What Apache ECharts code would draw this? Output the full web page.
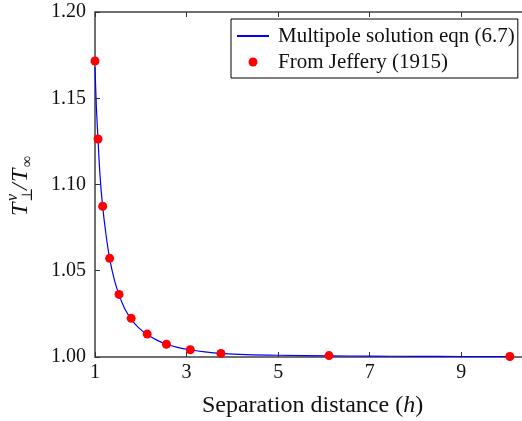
<!DOCTYPE html>
<html>
<head>
<meta charset="utf-8">
<script src="https://cdn.jsdelivr.net/npm/echarts@6/dist/echarts.min.js"></script>
<style>html,body{margin:0;padding:0;background:#fff;}#c{width:522px;height:421px;}</style>
</head>
<body>
<div id="c"></div>
<script>
// Multipole solution curve
const curveX = [1.0, 1.03, 1.066, 1.11, 1.168, 1.24, 1.32, 1.42, 1.525, 1.65, 1.79, 1.95, 2.14, 2.35, 2.56, 2.8, 3.08, 3.4, 3.75, 4.3, 5.0, 6.11, 7.0, 8.0, 9.0, 10.06];
const curveY = [1.168, 1.145, 1.126, 1.105, 1.087, 1.071, 1.057, 1.045, 1.036, 1.028, 1.022, 1.017, 1.013, 1.0098, 1.0074, 1.0056, 1.0042, 1.003, 1.0021, 1.0014, 1.0010, 1.0007, 1.0005, 1.0004, 1.0003, 1.0002];
// Jeffery (1915) points
const jefX = [1.0, 1.066, 1.168, 1.32, 1.525, 1.79, 2.14, 2.56, 3.08, 3.75, 6.11, 10.06];
const jefY = [1.1716, 1.1264, 1.0874, 1.0572, 1.0363, 1.0224, 1.0133, 1.0074, 1.0042, 1.0021, 1.0008, 1.0003];
const xTicks = [1, 3, 5, 7, 9];
const yTicks = [1.00, 1.05, 1.10, 1.15, 1.20];
const seriesNames = ['Multipole solution eqn (6.7)', 'From Jeffery (1915)'];

const FONT = '"Liberation Serif", "DejaVu Serif", serif';
const axisCol = '#707070';
const chart = echarts.init(document.getElementById('c'));
const zip = (a, b) => a.map((v, i) => [v, b[i]]);

chart.setOption({
  animation: false,
  backgroundColor: '#fff',
  grid: { left: 95, top: 12, right: -8, bottom: 64, containLabel: false, outerBoundsMode: 'none' },
  legend: {
    orient: 'vertical', left: 231, top: 19,
    data: [{ name: seriesNames[0], itemStyle: { opacity: 0 } }, { name: seriesNames[1] }],
    itemWidth: 32, itemHeight: 9, itemGap: 0,
    padding: [4, 3, 3, 5],
    borderColor: '#000', borderWidth: 1, borderRadius: 0,
    backgroundColor: '#fff',
    textStyle: { fontFamily: FONT, fontSize: 21, color: '#111', lineHeight: 26, padding: [0, 0, 0, 4] }
  },
  xAxis: [{
    type: 'value', min: 1, max: 10.5, interval: 2,
    name: 'Separation distance ({it|h})', nameLocation: 'middle', nameGap: 37,
    nameTextStyle: { fontFamily: FONT, fontSize: 24, color: '#111', rich: { it: { fontFamily: FONT, fontSize: 24, fontStyle: 'italic', color: '#111' } } },
    axisLine: { show: true, lineStyle: { color: axisCol, width: 2 } },
    axisTick: { show: true, inside: true, length: 5, lineStyle: { color: '#333', width: 1 } },
    axisLabel: { fontFamily: FONT, fontSize: 20, color: '#111', margin: 6,
      formatter: v => xTicks.indexOf(v) >= 0 ? String(v) : '' },
    splitLine: { show: false }
  }, {
    type: 'value', min: 1, max: 10.5, interval: 2, position: 'top',
    axisLine: { show: true, lineStyle: { color: axisCol, width: 2 } },
    axisTick: { show: true, inside: true, length: 5, lineStyle: { color: '#333', width: 1 } },
    axisLabel: { show: false }, splitLine: { show: false }
  }],
  yAxis: {
    type: 'value', min: 1.0, max: 1.2, interval: 0.05,
    axisLine: { show: true, lineStyle: { color: axisCol, width: 2 } },
    axisTick: { show: true, inside: true, length: 5, lineStyle: { color: '#333', width: 1 } },
    axisLabel: { fontFamily: FONT, fontSize: 20, color: '#111', margin: 9,
      formatter: v => { const t = yTicks.find(k => Math.abs(k - v) < 1e-9); return t !== undefined ? t.toFixed(2) : ''; } },
    splitLine: { show: false }
  },
  series: [{
    name: seriesNames[0], type: 'line', data: zip(curveX, curveY), smooth: 0.3,
    symbol: 'none', lineStyle: { color: '#0000ff', width: 1.2 }, itemStyle: { color: '#0000ff' }, z: 2
  }, {
    name: seriesNames[1], type: 'scatter', data: zip(jefX, jefY),
    symbol: 'circle', symbolSize: 9, itemStyle: { color: '#ff0000', opacity: 1 }, z: 3
  }],
  graphic: [{
    type: 'group', x: 21, y: 183, rotation: Math.PI / 2,
    children: [
      { type: 'text', x: -33, y: 0, style: { text: 'T', font: 'italic 24px ' + FONT, fill: '#111', verticalAlign: 'middle', align: 'left' } },
      { type: 'text', x: -18, y: -8, style: { text: 'v', font: 'italic 16px ' + FONT, fill: '#111', verticalAlign: 'middle', align: 'left' } },
      { type: 'text', x: -19, y: 7, style: { text: '⊥', font: '15px ' + FONT, fill: '#111', verticalAlign: 'middle', align: 'left' } },
      { type: 'text', x: -7, y: 0, style: { text: '/', font: 'italic 24px ' + FONT, fill: '#111', verticalAlign: 'middle', align: 'left' } },
      { type: 'text', x: 1, y: 0, style: { text: 'T', font: 'italic 24px ' + FONT, fill: '#111', verticalAlign: 'middle', align: 'left' } },
      { type: 'text', x: 16, y: 7, style: { text: '∞', font: '16px ' + FONT, fill: '#111', verticalAlign: 'middle', align: 'left' } }
    ]
  }]
});
</script>
</body>
</html>
